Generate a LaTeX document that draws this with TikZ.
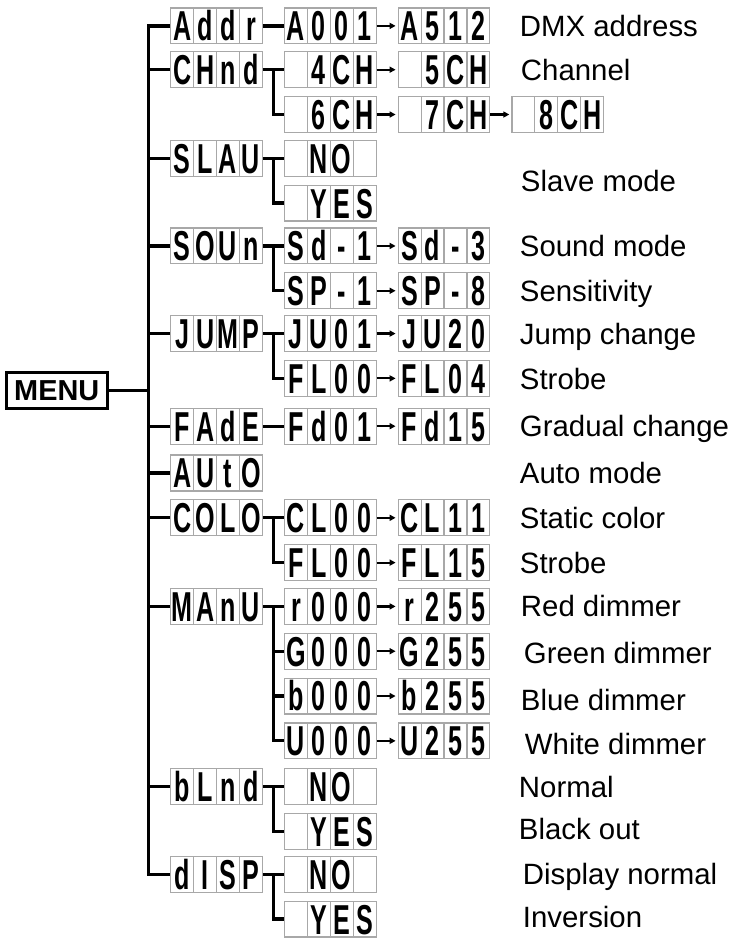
\documentclass[tikz,border=0pt]{standalone}
\usepackage{fontspec}
\usetikzlibrary{arrows.meta,calc,positioning}
\newfontfamily\labelfont{Liberation Sans}
\newfontfamily\segfont[FakeStretch=0.6]{Liberation Sans}
\definecolor{LcdGray}{RGB}{168,168,168}
\newcommand\lcdtext[4]{\makebox[23pt]{#1}\makebox[23pt]{#2}\makebox[23pt]{#3}\makebox[23pt]{#4}}

\begin{document}
\begin{tikzpicture}[x=1pt,y=-1pt,node distance=7.8pt and 21pt,>=Stealth]
  \tikzset{lcd/.style={draw=LcdGray,line width=1.2pt,minimum width=92pt,minimum height=36pt,inner sep=0pt,
      text height=30pt,text depth=0pt,font=\segfont\bfseries\fontsize{42}{42}\selectfont,
      path picture={\foreach \k in {1,2,3}
        \draw[LcdGray,line width=1.2pt] ($(path picture bounding box.south west)!\k/4!(path picture bounding box.south east)$)
          -- ($(path picture bounding box.north west)!\k/4!(path picture bounding box.north east)$);}},
    menubox/.style={draw,line width=3pt,minimum width=101pt,minimum height=36pt,inner sep=0pt,font=\labelfont\bfseries\fontsize{29}{29}\selectfont},
    note/.style={anchor=base west,inner sep=0pt,font=\labelfont\fontsize{29.5}{30}\selectfont},
    wire/.style={line width=3.3pt},
    go/.style={->,>={Triangle[length=6pt,width=6pt]},line width=2.2pt,shorten >=2pt}}
  \useasboundingbox (0,0) rectangle (738,943);
  \node[menubox] (menu) at (57,392.5) {MENU};
  \coordinate (trunk) at (149,0);
  \coordinate (sub) at (275,0);
  % first level
  \node[lcd] (addr) at (217.5,26) {\lcdtext{A}{d}{d}{r}};
  \node[lcd] (chnd) at (217.5,70) {\lcdtext{C}{H}{n}{d}};
  \node[lcd] (slau) at (217.5,159) {\lcdtext{S}{L}{A}{U}};
  \node[lcd] (soun) at (217.5,247) {\lcdtext{S}{O}{U}{n}};
  \node[lcd] (junp) at (217.5,335) {\lcdtext{J}{U}{M}{P}};
  \node[lcd] (fade) at (217.5,428) {\lcdtext{F}{A}{d}{E}};
  \node[lcd] (auto) at (217.5,475) {\lcdtext{A}{U}{t}{O}};
  \node[lcd] (colo) at (217.5,520) {\lcdtext{C}{O}{L}{O}};
  \node[lcd] (manu) at (217.5,609) {\lcdtext{M}{A}{n}{U}};
  \node[lcd] (blnd) at (217.5,790) {\lcdtext{b}{L}{n}{d}};
  \node[lcd] (disp) at (217.5,878) {\lcdtext{d}{I}{S}{P}};
  % second level and values
  \node[lcd,right=of addr] (a001) {\lcdtext{A}{0}{0}{1}};
  \node[lcd,right=of a001] (a512) {\lcdtext{A}{5}{1}{2}};
  \node[lcd,right=of chnd] (ch4) {\lcdtext{}{4}{C}{H}};
  \node[lcd,right=of ch4] (ch5) {\lcdtext{}{5}{C}{H}};
  \node[lcd,below=of ch4] (ch6) {\lcdtext{}{6}{C}{H}};
  \node[lcd,right=of ch6] (ch7) {\lcdtext{}{7}{C}{H}};
  \node[lcd,right=of ch7] (ch8) {\lcdtext{}{8}{C}{H}};
  \node[lcd,right=of slau] (slno) {\lcdtext{}{N}{O}{}};
  \node[lcd,below=of slno] (slyes) {\lcdtext{}{Y}{E}{S}};
  \node[lcd,right=of soun] (sd1) {\lcdtext{S}{d}{-}{1}};
  \node[lcd,right=of sd1] (sd3) {\lcdtext{S}{d}{-}{3}};
  \node[lcd,below=of sd1] (sp1) {\lcdtext{S}{P}{-}{1}};
  \node[lcd,right=of sp1] (sp8) {\lcdtext{S}{P}{-}{8}};
  \node[lcd,right=of junp] (ju01) {\lcdtext{J}{U}{0}{1}};
  \node[lcd,right=of ju01] (ju20) {\lcdtext{J}{U}{2}{0}};
  \node[lcd,below=of ju01] (jfl00) {\lcdtext{F}{L}{0}{0}};
  \node[lcd,right=of jfl00] (jfl04) {\lcdtext{F}{L}{0}{4}};
  \node[lcd,right=of fade] (fd01) {\lcdtext{F}{d}{0}{1}};
  \node[lcd,right=of fd01] (fd15) {\lcdtext{F}{d}{1}{5}};
  \node[lcd,right=of colo] (cl00) {\lcdtext{C}{L}{0}{0}};
  \node[lcd,right=of cl00] (cl11) {\lcdtext{C}{L}{1}{1}};
  \node[lcd,below=of cl00] (cfl00) {\lcdtext{F}{L}{0}{0}};
  \node[lcd,right=of cfl00] (cfl15) {\lcdtext{F}{L}{1}{5}};
  \node[lcd,right=of manu] (r000) {\lcdtext{r}{0}{0}{0}};
  \node[lcd,right=of r000] (r255) {\lcdtext{r}{2}{5}{5}};
  \node[lcd,below=of r000] (g000) {\lcdtext{G}{0}{0}{0}};
  \node[lcd,right=of g000] (g255) {\lcdtext{G}{2}{5}{5}};
  \node[lcd,below=of g000] (b000) {\lcdtext{b}{0}{0}{0}};
  \node[lcd,right=of b000] (b255) {\lcdtext{b}{2}{5}{5}};
  \node[lcd,below=of b000] (w000) {\lcdtext{U}{0}{0}{0}};
  \node[lcd,right=of w000] (w255) {\lcdtext{U}{2}{5}{5}};
  \node[lcd,right=of blnd] (blno) {\lcdtext{}{N}{O}{}};
  \node[lcd,below=of blno] (blyes) {\lcdtext{}{Y}{E}{S}};
  \node[lcd,right=of disp] (dino) {\lcdtext{}{N}{O}{}};
  \node[lcd,below=of dino] (diyes) {\lcdtext{}{Y}{E}{S}};
  % descriptions
  \node[note] (tdmx) at (522,36.5) {DMX address};
  \node[note] (tchan) at (523,80.5) {Channel};
  \node[note] (tslave) at (523,192) {Slave mode};
  \node[note] (tsound) at (522,257.5) {Sound mode};
  \node[note] (tsens) at (522,302.5) {Sensitivity};
  \node[note] (tjump) at (522,345.5) {Jump change};
  \node[note] (tstrobea) at (522,391.5) {Strobe};
  \node[note] (tgrad) at (522,438.5) {Gradual change};
  \node[note] (tauto) at (522,485.5) {Auto mode};
  \node[note] (tstatic) at (522,530.5) {Static color};
  \node[note] (tstrobeb) at (522,575.5) {Strobe};
  \node[note] (tred) at (523,619.5) {Red dimmer};
  \node[note] (tgreen) at (526,666.5) {Green dimmer};
  \node[note] (tblue) at (523,713.5) {Blue dimmer};
  \node[note] (twhite) at (527,757.5) {White dimmer};
  \node[note] (tnormal) at (521,800.5) {Normal};
  \node[note] (tblack) at (521,843.5) {Black out};
  \node[note] (tdisp) at (525,888.5) {Display normal};
  \node[note] (tinv) at (525,931.5) {Inversion};
  % menu tree
  \draw[wire] (menu.east) -- (menu.east -| trunk);
  \draw[wire] (addr.west) -| (trunk |- disp.west) -- (disp.west);
  \foreach \n in {chnd,slau,soun,junp,fade,auto,colo,manu,blnd}
    \draw[wire] (\n.west -| trunk) -- (\n.west);
  \draw[wire] (addr) -- (a001);
  \draw[wire] (fade) -- (fd01);
  \foreach \a/\b in {chnd/ch4,slau/slno,soun/sd1,junp/ju01,colo/cl00,manu/r000,blnd/blno,disp/dino}
    \draw[wire] (\a) -- (\b);
  \foreach \a/\b in {chnd/ch6,slau/slyes,soun/sp1,junp/jfl00,colo/cfl00,manu/w000,blnd/blyes,disp/diyes}
    \draw[wire] (\a.east -| sub) |- (\b.west);
  \draw[wire] (g000.west -| sub) -- (g000.west);
  \draw[wire] (b000.west -| sub) -- (b000.west);
  % value ranges
  \foreach \a/\b in {a001/a512,ch4/ch5,ch6/ch7,ch7/ch8,sd1/sd3,sp1/sp8,ju01/ju20,jfl00/jfl04,fd01/fd15,cl00/cl11,cfl00/cfl15,r000/r255,g000/g255,b000/b255,w000/w255}
    \draw[go] (\a) -- (\b);
\end{tikzpicture}
\end{document}
